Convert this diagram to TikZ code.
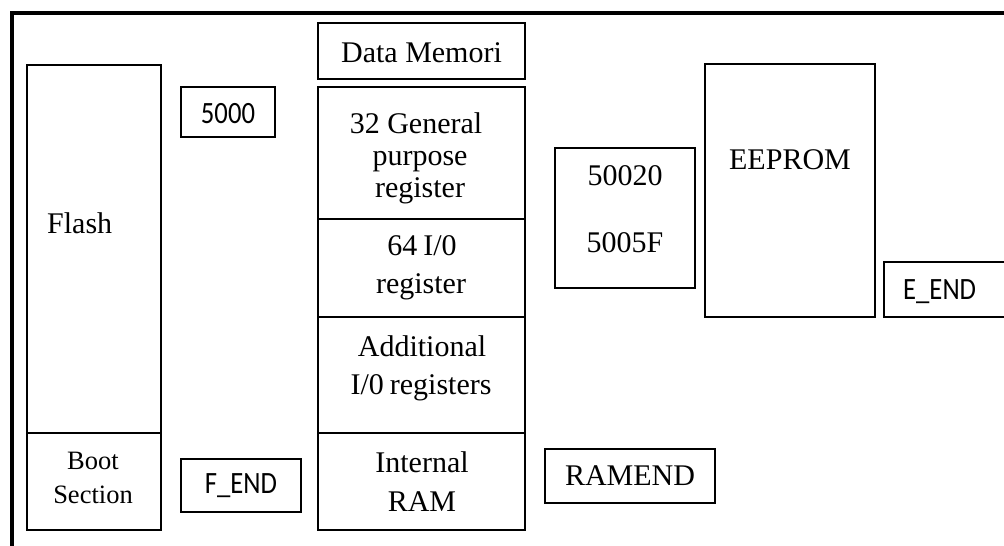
\documentclass[tikz,border=0pt]{standalone}
\usepackage{fontspec}
\setmainfont{Liberation Serif}
\newfontfamily\sansf[FakeStretch=0.86]{Carlito}
\begin{document}
\begin{tikzpicture}[x=1pt,y=-1pt,
  box/.style={draw,line width=2pt,inner sep=0pt,outer sep=0pt,anchor=north west},
  frame/.style={line width=4pt},
  txt/.style={inner sep=0pt,anchor=base,font=\fontsize{30}{34}\selectfont},
  small/.style={inner sep=0pt,anchor=base,font=\fontsize{26.5}{30}\selectfont},
  sans/.style={inner sep=0pt,anchor=base,font=\sansf\fontsize{31}{34}\selectfont}]
\useasboundingbox (0,0) rectangle (1004,546);
\clip (0,0) rectangle (1004,546);
% outer frame
\coordinate (fb) at (11.5,560);
\coordinate (fc) at (11.5,13);
\coordinate (fr) at (1020,13);
\draw[frame] (fb) -- (fc) -- (fr);
% flash column
\node[box,minimum width=134pt,minimum height=368pt] (flash) at (27,65) {};
\node[box,minimum width=134pt,minimum height=97pt] (boot) at (27,433) {};
\node[box,minimum width=94pt,minimum height=50pt] (k5000) at (181,87) {};
\node[box,minimum width=120pt,minimum height=53pt] (fend) at (181,459) {};
% data memory column
\node[box,minimum width=207pt,minimum height=56pt] (dm) at (318,23) {};
\node[box,minimum width=207pt,minimum height=132pt] (gp) at (318,87) {};
\node[box,minimum width=207pt,minimum height=98pt] (io) at (318,219) {};
\node[box,minimum width=207pt,minimum height=116pt] (aio) at (318,317) {};
\node[box,minimum width=207pt,minimum height=97pt] (ram) at (318,433) {};
% right side
\node[box,minimum width=140pt,minimum height=140pt] (addr) at (555,148) {};
\node[box,minimum width=170pt,minimum height=54pt] (ramend) at (545,449) {};
\node[box,minimum width=170pt,minimum height=253pt] (eeprom) at (705,64) {};
\node[box,minimum width=130pt,minimum height=55pt] (eend) at (884,262) {};
% texts
\node[txt,anchor=base west] (tflash) at (47,233) {Flash};
\node[small] (tboot1) at (93,469) {Boot};
\node[small] (tboot2) at (93,503) {Section};
\node[sans] (t5000) at (228,123) {5000};
\node[sans] (tfend) at (241,493) {F\_END};
\node[txt] (tdm) at (421.5,62) {Data Memori};
\node[txt] (tgp1) at (416,133) {32 General};
\node[txt] (tgp2) at (420,165) {purpose};
\node[txt] (tgp3) at (420,197) {register};
\node[txt] (tio1) at (422,255) {64\kern-1.5pt\ I/0};
\node[txt] (tio2) at (421,293) {register};
\node[txt] (taio1) at (422,356) {Additional};
\node[txt] (taio2) at (421,394) {I/0\kern-1.5pt\ registers};
\node[txt] (tram1) at (422,472) {Internal};
\node[txt] (tram2) at (422,511) {RAM};
\node[txt] (tramend) at (630,485) {RAMEND};
\node[txt] (taddr1) at (625,185) {50020};
\node[txt] (taddr2) at (625,252) {5005F};
\node[txt] (teeprom) at (790,169) {EEPROM};
\node[sans,anchor=base west] (teend) at (903,299) {E\_END};
\end{tikzpicture}
\end{document}
